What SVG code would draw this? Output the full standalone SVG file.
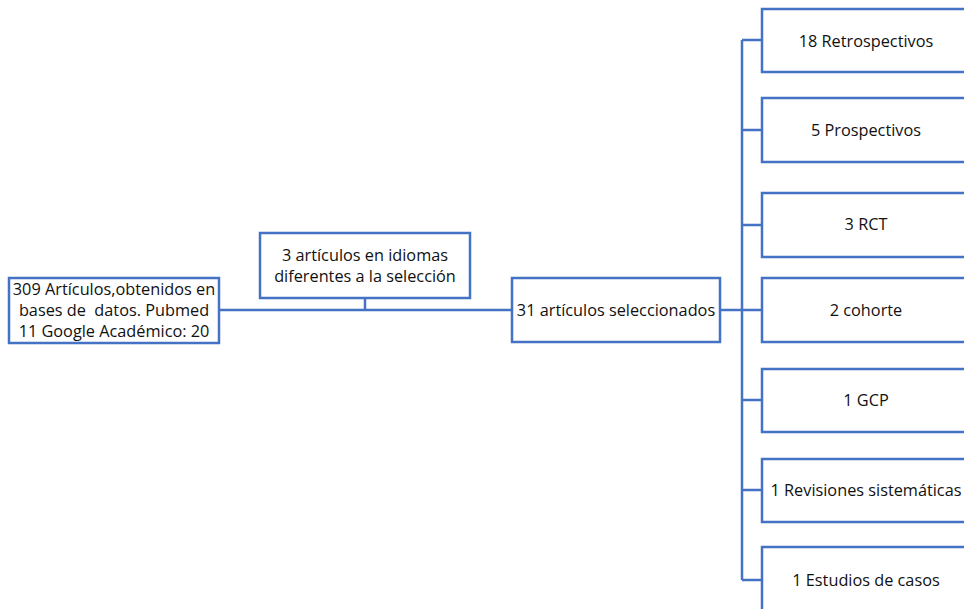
<svg xmlns="http://www.w3.org/2000/svg" width="964" height="609" viewBox="0 0 964 609">
<style>
.box{fill:#ffffff;stroke:#4472C4;stroke-width:2.5}
.lbl{font-family:"Open Sans","Liberation Sans",sans-serif;font-size:16.3px;fill:#111111;text-anchor:middle;dominant-baseline:central}
.con{stroke:#4472C4;stroke-width:2.5;fill:none}
</style>
<rect width="964" height="609" fill="#ffffff"/>
<g id="connectors">
<path class="con" d="M219 310 H512"/>
<path class="con" d="M365 298 V310"/>
<path class="con" d="M720 310 H742"/>
<path class="con" d="M742 40 V580"/>
<path class="con" d="M742 40 H762 M742 130 H762 M742 225 H762 M742 310 H762 M742 400 H762 M742 490 H762 M742 580 H762"/>
</g>
<g id="n_total">
<rect class="box" x="9" y="278" width="210" height="65"/>
<text class="lbl" x="114" y="289">309 Artículos,obtenidos en</text>
<text class="lbl" x="114" y="310" xml:space="preserve">bases de  datos. Pubmed</text>
<text class="lbl" x="114" y="331">11 Google Académico: 20</text>
</g>
<g id="n_idiomas">
<rect class="box" x="260" y="233" width="210" height="65"/>
<text class="lbl" x="365" y="255">3 artículos en idiomas</text>
<text class="lbl" x="365" y="276">diferentes a la selección</text>
</g>
<g id="n_selected">
<rect class="box" x="512" y="278" width="208" height="64"/>
<text class="lbl" x="616" y="310">31 artículos seleccionados</text>
</g>
<g id="n_retro">
<rect class="box" x="762" y="9" width="208" height="63"/>
<text class="lbl" x="866" y="41">18 Retrospectivos</text>
</g>
<g id="n_pro">
<rect class="box" x="762" y="98" width="208" height="64"/>
<text class="lbl" x="866" y="130">5 Prospectivos</text>
</g>
<g id="n_rct">
<rect class="box" x="762" y="193" width="208" height="64"/>
<text class="lbl" x="866" y="224">3 RCT</text>
</g>
<g id="n_cohorte">
<rect class="box" x="762" y="278" width="208" height="64"/>
<text class="lbl" x="866" y="310">2 cohorte</text>
</g>
<g id="n_gcp">
<rect class="box" x="762" y="369" width="208" height="63"/>
<text class="lbl" x="866" y="400">1 GCP</text>
</g>
<g id="n_rev">
<rect class="box" x="762" y="459" width="208" height="63"/>
<text class="lbl" x="866" y="490">1 Revisiones sistemáticas</text>
</g>
<g id="n_casos">
<rect class="box" x="762" y="547" width="208" height="66"/>
<text class="lbl" x="866" y="580">1 Estudios de casos</text>
</g>
</svg>
